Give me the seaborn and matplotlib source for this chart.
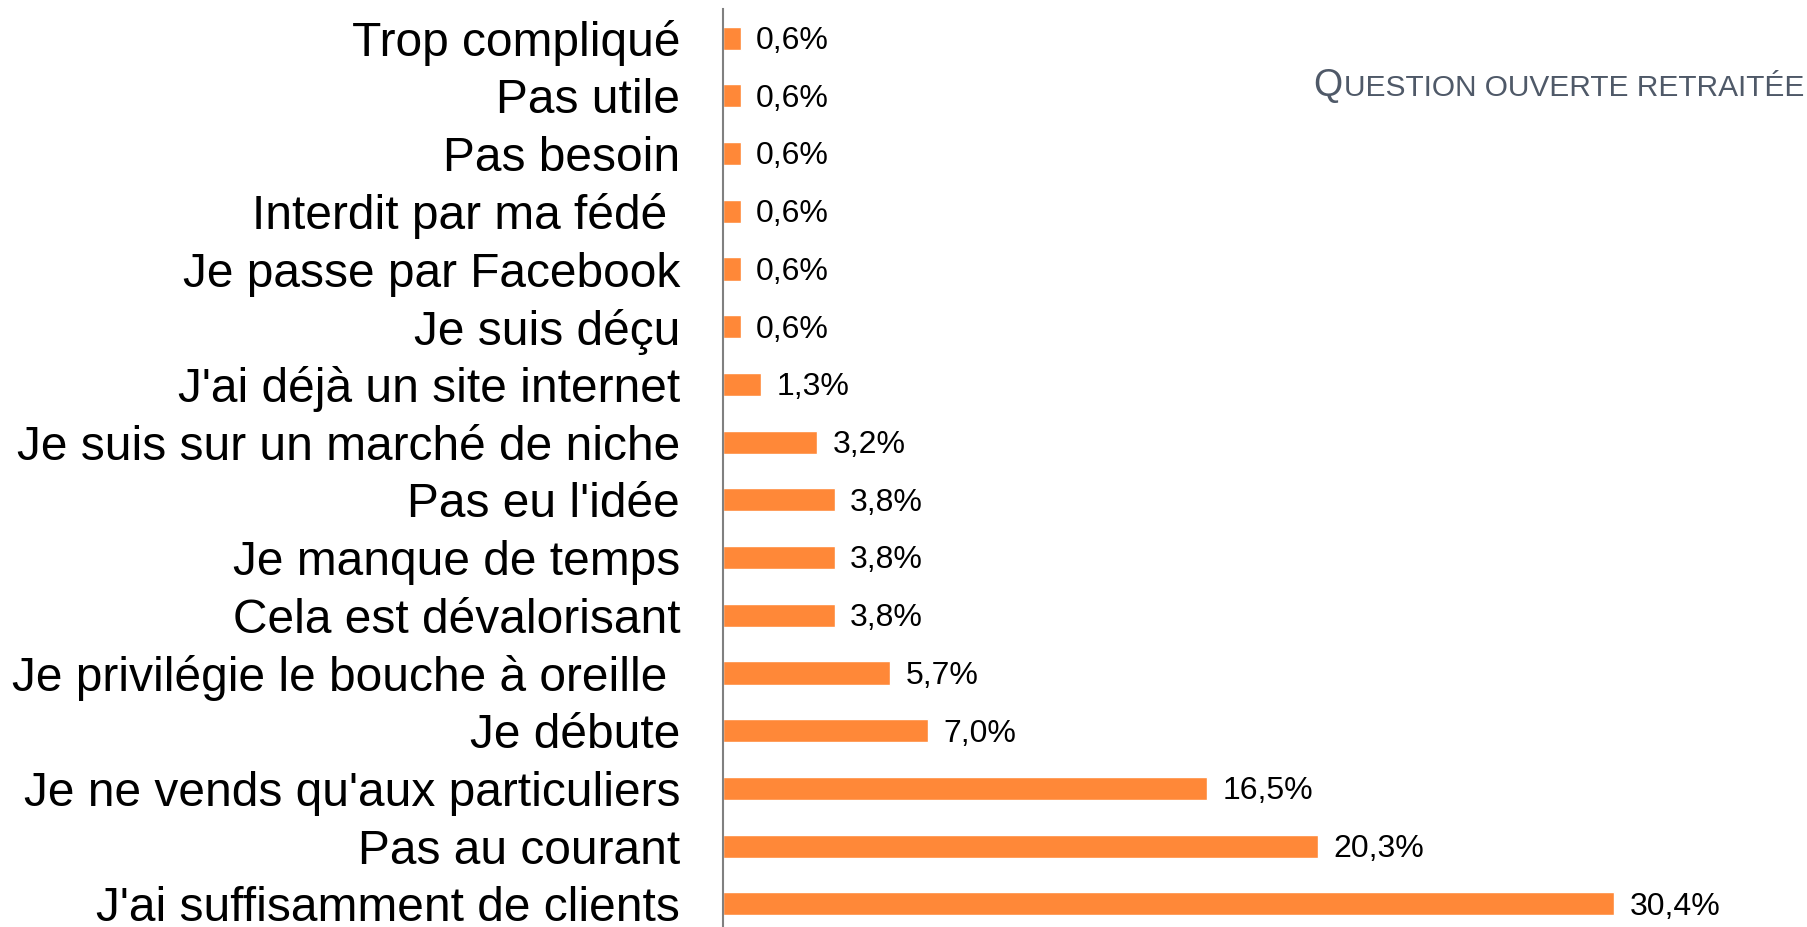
import matplotlib
matplotlib.use("Agg")
import matplotlib.pyplot as plt
import pandas as pd
import seaborn as sns
from matplotlib.offsetbox import TextArea, HPacker, AnchoredOffsetbox

# Data (top to bottom)
reasons = [
    "Trop compliqué", "Pas utile", "Pas besoin", "Interdit par ma fédé ",
    "Je passe par Facebook", "Je suis déçu", "J'ai déjà un site internet",
    "Je suis sur un marché de niche", "Pas eu l'idée", "Je manque de temps",
    "Cela est dévalorisant", "Je privilégie le bouche à oreille ", "Je débute",
    "Je ne vends qu'aux particuliers", "Pas au courant",
    "J'ai suffisamment de clients",
]
shares = [0.6, 0.6, 0.6, 0.6, 0.6, 0.6, 1.3, 3.2, 3.8, 3.8, 3.8, 5.7, 7.0,
          16.5, 20.3, 30.4]
note_first = "Q"
note_rest = "UESTION OUVERTE RETRAITÉE"

df = pd.DataFrame({"Raison": reasons, "Part": shares})

sns.set_theme(style="white")
plt.rcParams["font.family"] = ["Liberation Sans", "DejaVu Sans"]

fig = plt.figure(figsize=(18.08, 9.27), dpi=100)
ax = fig.add_axes([0.4, 0.0, 0.6, 0.99])

orange = "#FF8838"
sns.barplot(data=df, y="Raison", x="Part", order=reasons, orient="h",
            color=orange, saturation=1, width=0.4, ax=ax)

# value labels, a touch below the bar centre as in the reference
for y, v in enumerate(shares):
    ax.annotate(f"{v:.1f}%".replace(".", ","), xy=(v, y), xytext=(11, -2),
                textcoords="offset points", va="center", ha="left",
                fontsize=23, color="black")

ax.set_xlim(0, 37)
ax.set_ylim(15.4, -0.5)
ax.set_xlabel("")
ax.set_ylabel("")
ax.set_xticks([])
ax.tick_params(axis="y", length=0, pad=31, labelsize=34.5, labelcolor="black")
for side in ["top", "right", "bottom"]:
    ax.spines[side].set_visible(False)
ax.spines["left"].set_color("#808080")
ax.spines["left"].set_linewidth(1.5)
ax.patch.set_alpha(0)

# small-caps note in the top right corner
grey = "#4F5968"
box = HPacker(children=[TextArea(note_first, textprops=dict(fontsize=27, color=grey)),
                        TextArea(note_rest, textprops=dict(fontsize=21.5, color=grey))],
              align="baseline", pad=0, sep=1)
anchored = AnchoredOffsetbox(loc="upper right", child=box, frameon=False,
                             bbox_to_anchor=(1804 / 1808, 1 - 68 / 927),
                             bbox_transform=fig.transFigure, borderpad=0, pad=0)
fig.add_artist(anchored)

fig.savefig("out.png", dpi=100)
